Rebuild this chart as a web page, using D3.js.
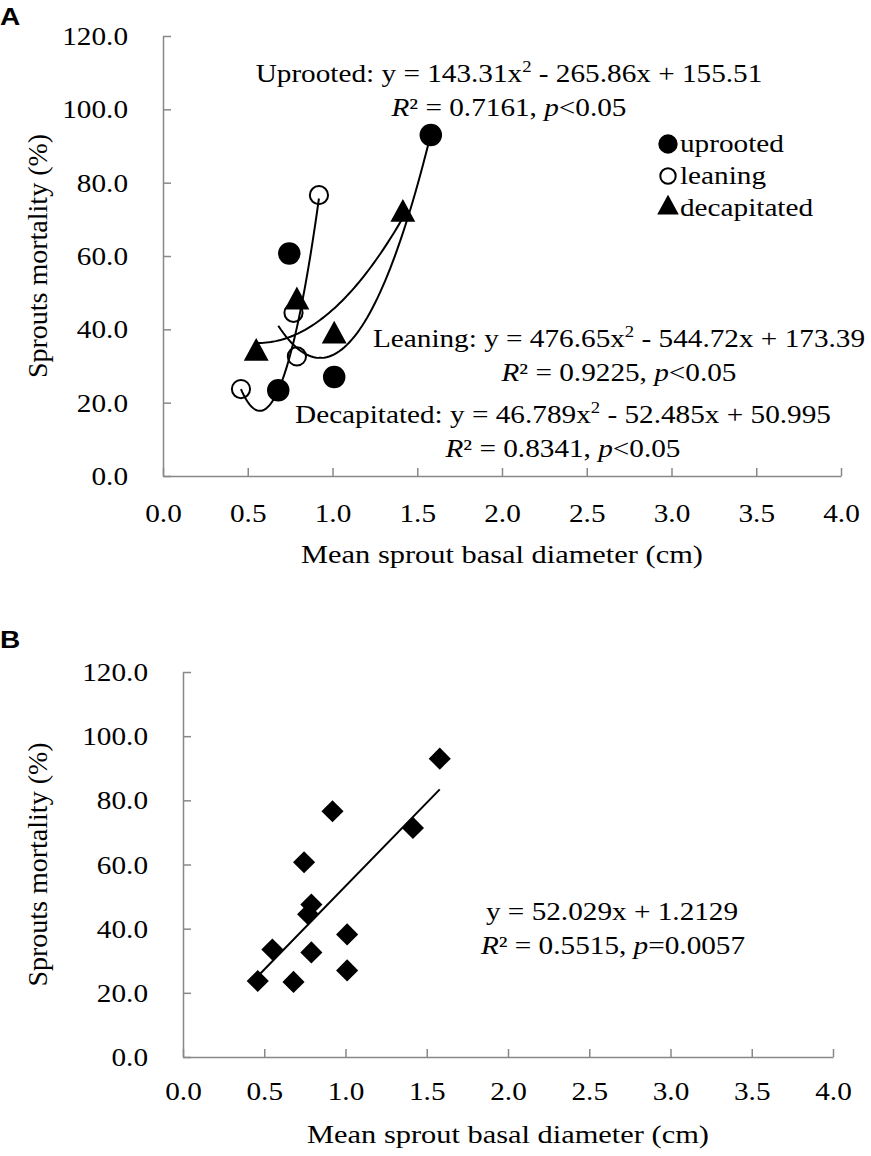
<!DOCTYPE html>
<meta charset="utf-8">
<title>Sprouts mortality vs. mean sprout basal diameter</title>
<style>
  body { margin: 0; background: #fff; }
  text { font-family: "Liberation Serif", "Times New Roman", serif; font-size: 25px; fill: #000; }
  .axis path, .axis line { stroke: #888; stroke-width: 1.5px; fill: none; }
  .panel-label { font-family: "Liberation Sans", Arial, sans-serif; font-weight: bold; font-size: 24px; }
  .trend { fill: none; stroke: #000; stroke-width: 2px; }
</style>
<svg width="871" height="1156"></svg>
<script src="https://d3js.org/d3.v7.min.js"></script>
<script>
  // ticks
  var xTicks = [0, 0.5, 1, 1.5, 2, 2.5, 3, 3.5, 4];
  var yTicks = [0, 20, 40, 60, 80, 100, 120];

  // mean sprout basal diameter (cm) and mortality (%) per damage type
  var uprootedX = [0.68, 0.745, 1.01, 1.58];
  var uprootedY = [23.4, 60.7, 27.0, 93.0];
  var leaningX = [0.46, 0.77, 0.79, 0.92];
  var leaningY = [23.7, 44.5, 32.6, 76.6];
  var decapX = [0.55, 0.79, 1.01, 1.415];
  var decapY = [33.5, 47.5, 38.2, 71.4];

  // quadratic fits y = a x^2 + b x + c (uprooted, leaning, decapitated)
  var fitNames = ["Uprooted", "Leaning", "Decapitated"];
  var fitA = [143.31, 476.65, 46.789];
  var fitB = [-265.86, -544.72, -52.485];
  var fitC = [155.51, 173.39, 50.995];
  var fitR2 = ["0.7161", "0.9225", "0.8341"];
  var fitP = ["<0.05", "<0.05", "<0.05"];

  // linear fit over all sprouts (panel B)
  var linSlope = 52.029, linIntercept = 1.2129;
  var linR2 = "0.5515", linP = "=0.0057";

  var legendLabels = ["uprooted", "leaning", "decapitated"];

  var SX = 1.17; // the original's lettering is a little wide

  var svg = d3.select("svg");
  svg.append("rect").attr("width", 871).attr("height", 1156).attr("fill", "#fff");

  var fmt = d3.format(".1f");

  // triangle marker, centred on its centroid
  var triangle = {
    draw: function (ctx, size) {
      var w = Math.sqrt(size * 2.2), h = w * 0.92;
      ctx.moveTo(0, -h * 2 / 3);
      ctx.lineTo(w / 2, h / 3);
      ctx.lineTo(-w / 2, h / 3);
      ctx.closePath();
    }
  };

  function txt(g, x, y, anchor) {
    return g.append("text")
      .attr("transform", "translate(" + x + "," + y + ") scale(" + SX + ",1)")
      .attr("text-anchor", anchor || "middle");
  }

  // parts: [string, "i" | "sup" | ""]
  function rich(g, x, y, parts) {
    var t = txt(g, x, y), shift = 0;
    parts.forEach(function (p) {
      var s = t.append("tspan").text(p[0]);
      if (p[1] === "sup") {
        s.attr("font-size", "16px").attr("dy", -10);
        shift = 10;
      } else {
        if (shift) { s.attr("dy", shift); shift = 0; }
        if (p[1] === "i") s.attr("font-style", "italic");
      }
    });
    return t;
  }

  function num(v) { return String(Math.abs(v)); }

  function makePanel(left, right, top, bottom, tickBase, titleBase) {
    var x = d3.scaleLinear().domain([0, 4]).range([left, right]);
    var y = d3.scaleLinear().domain([0, 120]).range([bottom, top]);
    var g = svg.append("g");

    var xa = g.append("g").attr("class", "axis")
      .attr("transform", "translate(0," + bottom + ")")
      .call(d3.axisBottom(x).tickValues(xTicks).tickFormat(fmt).tickSizeInner(-8).tickSizeOuter(0));
    xa.selectAll("text")
      .attr("y", tickBase - bottom).attr("dy", 0)
      .attr("transform", "scale(" + SX + ",1)")
      .attr("fill", "#000");

    var ya = g.append("g").attr("class", "axis")
      .attr("transform", "translate(" + left + ",0)")
      .call(d3.axisLeft(y).tickValues(yTicks).tickFormat(fmt).tickSizeInner(-8).tickSizeOuter(0));
    ya.selectAll("text")
      .attr("x", -35 / SX).attr("dy", "0.34em")
      .attr("transform", "scale(" + SX + ",1)")
      .attr("fill", "#000");
    g.selectAll(".axis").attr("font-size", null).attr("font-family", null);

    txt(g, (left + right) / 2, titleBase).style("font-size", "26px").text("Mean sprout basal diameter (cm)");
    g.append("text")
      .attr("transform", "translate(47," + (top + bottom) / 2 + ") rotate(-90)")
      .attr("text-anchor", "middle")
      .style("font-size", "28px")
      .text("Sprouts mortality (%)");

    return { g: g, x: x, y: y };
  }

  function pts(xs, ys) { return xs.map(function (d, i) { return [d, ys[i]]; }); }

  // ---------- panel A ----------
  txt(svg, 0, 25, "start").attr("class", "panel-label").text("A");
  var A = makePanel(163, 841, 36, 476, 522, 563);

  var groupsA = [
    { data: pts(uprootedX, uprootedY), type: d3.symbolCircle, size: 330, fill: "#000" },
    { data: pts(leaningX, leaningY), type: d3.symbolCircle, size: 260, fill: "#fff" },
    { data: pts(decapX, decapY), type: triangle, size: 210, fill: "#000" }
  ];

  groupsA.forEach(function (grp) {
    A.g.selectAll(null).data(grp.data).enter().append("path")
      .attr("d", d3.symbol().type(grp.type).size(grp.size))
      .attr("transform", function (d) { return "translate(" + A.x(d[0]) + "," + A.y(d[1]) + ")"; })
      .attr("fill", grp.fill).attr("stroke", "#000").attr("stroke-width", 2);
  });

  var line = function (sc) {
    return d3.line().x(function (d) { return sc.x(d[0]); }).y(function (d) { return sc.y(d[1]); });
  };

  groupsA.forEach(function (grp, i) {
    var ext = d3.extent(grp.data, function (d) { return d[0]; });
    var curve = d3.range(0, 61).map(function (k) {
      var xv = ext[0] + (ext[1] - ext[0]) * k / 60;
      return [xv, fitA[i] * xv * xv + fitB[i] * xv + fitC[i]];
    });
    A.g.append("path").attr("class", "trend").attr("d", line(A)(curve));
  });

  // equation labels
  var eqPos = [[509, 82], [619, 347], [563, 423]];
  fitNames.forEach(function (n, i) {
    rich(A.g, eqPos[i][0], eqPos[i][1], [
      [n + ": y = " + num(fitA[i]) + "x", ""], ["2", "sup"],
      [" " + (fitB[i] < 0 ? "-" : "+") + " " + num(fitB[i]) + "x + " + num(fitC[i]), ""]
    ]);
    rich(A.g, eqPos[i][0], eqPos[i][1] + 34, [
      ["R", "i"], ["\u00b2 = " + fitR2[i] + ", ", ""], ["p", "i"], [fitP[i], ""]
    ]);
  });

  // legend
  var legend = A.g.append("g").attr("transform", "translate(668,144)");
  groupsA.forEach(function (grp, i) {
    legend.append("path")
      .attr("d", d3.symbol().type(grp.type).size(grp.size * 0.72))
      .attr("transform", "translate(0," + i * 32 + ")")
      .attr("fill", grp.fill).attr("stroke", "#000").attr("stroke-width", 2);
    txt(legend, 12, i * 32 + 8, "start").text(legendLabels[i]);
  });

  // ---------- panel B ----------
  txt(svg, 0, 648, "start").attr("class", "panel-label").text("B");
  var B = makePanel(183, 833, 672, 1057, 1100, 1143);

  var allPts = pts(uprootedX.concat(leaningX, decapX), uprootedY.concat(leaningY, decapY));
  B.g.selectAll(null).data(allPts).enter().append("path")
    .attr("d", d3.symbol().type(d3.symbolSquare).size(245))
    .attr("transform", function (d) { return "translate(" + B.x(d[0]) + "," + B.y(d[1]) + ") rotate(45)"; })
    .attr("fill", "#000");

  var xExt = d3.extent(allPts, function (d) { return d[0]; });
  B.g.append("path").attr("class", "trend").attr("stroke-width", 3)
    .attr("d", line(B)(xExt.map(function (xv) { return [xv, linSlope * xv + linIntercept]; })));

  rich(B.g, 612, 920, [["y = " + linSlope + "x + " + linIntercept, ""]]);
  rich(B.g, 613, 954, [["R", "i"], ["\u00b2 = " + linR2 + ", ", ""], ["p", "i"], [linP, ""]]);
</script>
